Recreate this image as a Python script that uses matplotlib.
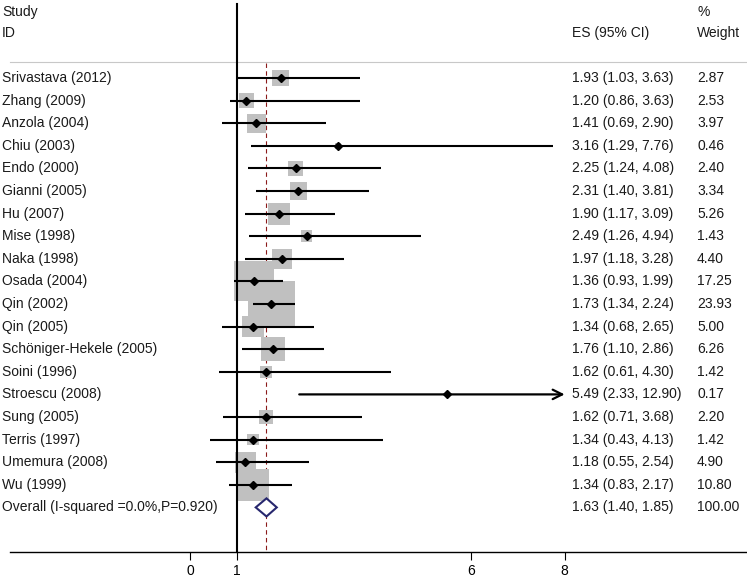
import matplotlib
matplotlib.use("Agg")
import matplotlib.pyplot as plt
from matplotlib.patches import Polygon

plt.rcParams['font.family'] = ['Liberation Sans', 'DejaVu Sans']

studies = ["Srivastava (2012)", "Zhang (2009)", "Anzola (2004)", "Chiu (2003)",
           "Endo (2000)", "Gianni (2005)", "Hu (2007)", "Mise (1998)", "Naka (1998)",
           "Osada (2004)", "Qin (2002)", "Qin (2005)", "Schöniger-Hekele (2005)",
           "Soini (1996)", "Stroescu (2008)", "Sung (2005)", "Terris (1997)",
           "Umemura (2008)", "Wu (1999)"]
es = [1.93, 1.20, 1.41, 3.16, 2.25, 2.31, 1.90, 2.49, 1.97, 1.36, 1.73, 1.34,
      1.76, 1.62, 5.49, 1.62, 1.34, 1.18, 1.34]
lo = [1.03, 0.86, 0.69, 1.29, 1.24, 1.40, 1.17, 1.26, 1.18, 0.93, 1.34, 0.68,
      1.10, 0.61, 2.33, 0.71, 0.43, 0.55, 0.83]
hi = [3.63, 3.63, 2.90, 7.76, 4.08, 3.81, 3.09, 4.94, 3.28, 1.99, 2.24, 2.65,
      2.86, 4.30, 12.90, 3.68, 4.13, 2.54, 2.17]
weights = [2.87, 2.53, 3.97, 0.46, 2.40, 3.34, 5.26, 1.43, 4.40, 17.25, 23.93,
           5.00, 6.26, 1.42, 0.17, 2.20, 1.42, 4.90, 10.80]

overall_label = "Overall (I-squared =0.0%,P=0.920)"
overall_es, overall_lo, overall_hi, overall_w = 1.63, 1.40, 1.85, 100.00
xticks = [0, 1, 6, 8]
x_clip = 8

W, H = 747, 581
fig = plt.figure(figsize=(W / 100, H / 100), dpi=100)
ax = fig.add_axes([0, 0, 1, 1])
# pixel mapping: x=1 at 237px, 46.8 px/unit; row i at 78 + 22.6*i px
ppu, x1px = 46.8, 237.0
row0, rowh = 78.0, 22.6
ax.set_xlim((0 - x1px) / ppu + 1, (W - x1px) / ppu + 1)
ax.set_ylim((H - row0) / rowh, (0 - row0) / rowh)

for s in ['top', 'right', 'left']:
    ax.spines[s].set_visible(False)
axis_row = (552 - row0) / rowh
ax.spines['bottom'].set_position(('data', axis_row))
ax.spines['bottom'].set_bounds((10 - x1px) / ppu + 1, (W - x1px) / ppu + 1)
ax.spines['bottom'].set_linewidth(1.0)
ax.set_xticks(xticks)
ax.set_xticklabels([str(t) for t in xticks])
ax.tick_params(axis='x', direction='out', length=5.5, width=0.8, pad=3, labelsize=10)
ax.set_yticks([])
ax.patch.set_visible(False)

rows = list(range(len(studies)))
fs = 10
ytr = ax.get_yaxis_transform()

# null line and overall dashed line
ax.plot([1, 1], [(4 - row0) / rowh, axis_row], color='black', lw=1.5, zorder=3)
ax.plot([overall_es, overall_es], [-0.65, axis_row], color='#8b1a1a', lw=0.8,
        ls=(0, (4, 3)), zorder=1)

# header separator
ax.plot([(10 - x1px) / ppu + 1, (W - x1px) / ppu + 1], [-0.71, -0.71],
        color='#c8c8c8', lw=0.8, clip_on=False)

# boxes
ax.scatter(es, rows, s=[47.8 * w for w in weights], marker='s', color='#c0c0c0',
           edgecolors='none', zorder=2)

# CI lines
for r, l, h in zip(rows, lo, hi):
    if h > x_clip:
        ax.annotate('', xy=(x_clip, r), xytext=(l, r),
                    arrowprops=dict(arrowstyle='->', color='black', lw=1.6,
                                    shrinkA=0, shrinkB=0, mutation_scale=17),
                    zorder=4)
    else:
        ax.plot([l, h], [r, r], color='black', lw=1.5, zorder=4, solid_capstyle='butt')

ax.plot(es, rows, 'D', color='black', ms=4, zorder=5)

# overall diamond
orow = len(studies)
dh = 0.4
ax.add_patch(Polygon([(overall_lo, orow), (overall_es, orow - dh),
                      (overall_hi, orow), (overall_es, orow + dh)],
                     closed=True, facecolor='white', edgecolor='#27276e', lw=1.5, zorder=6))

# texts
xs_name, xs_es, xs_w = 2 / W, 572 / W, 697 / W
tc = '#1a1a1a'
ax.text(xs_name, (12 - row0) / rowh, "Study", transform=ytr, va='center', ha='left', fontsize=fs, color=tc)
ax.text(xs_name, (33 - row0) / rowh, "ID", transform=ytr, va='center', ha='left', fontsize=fs, color=tc)
ax.text(xs_es, (33 - row0) / rowh, "ES (95% CI)", transform=ytr, va='center', ha='left', fontsize=fs, color=tc)
ax.text(xs_w, (12 - row0) / rowh, "%", transform=ytr, va='center', ha='left', fontsize=fs, color=tc)
ax.text(xs_w, (33 - row0) / rowh, "Weight", transform=ytr, va='center', ha='left', fontsize=fs, color=tc)

names = studies + [overall_label]
all_es = es + [overall_es]
all_lo = lo + [overall_lo]
all_hi = hi + [overall_hi]
all_w = weights + [overall_w]
for r, (n, e, l, h, w) in enumerate(zip(names, all_es, all_lo, all_hi, all_w)):
    ax.text(xs_name, r, n, transform=ytr, va='center', ha='left', fontsize=fs, color=tc)
    ax.text(xs_es, r, f"{e:.2f} ({l:.2f}, {h:.2f})", transform=ytr, va='center',
            ha='left', fontsize=fs, color=tc)
    ax.text(xs_w, r, f"{w:.2f}", transform=ytr, va='center', ha='left', fontsize=fs, color=tc)

fig.savefig("out.png", dpi=100)
